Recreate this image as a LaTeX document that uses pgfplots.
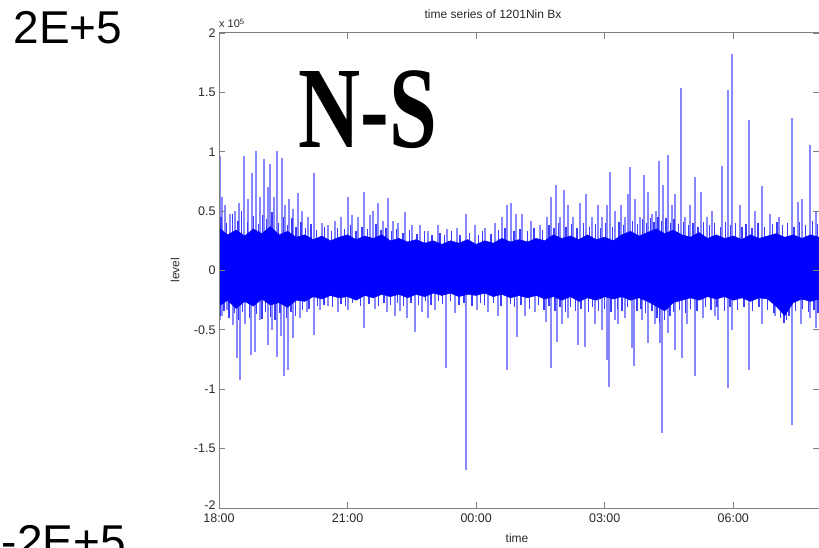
\documentclass[border=0pt]{standalone}
\usepackage{pgfplots}
\pgfplotsset{compat=1.18}
\usepackage{pgfplotstable}
\usepackage{fontspec}
\setmainfont{Liberation Sans}
\newfontfamily\serifbold{Liberation Serif}
\definecolor{axgray}{RGB}{128,128,128}
\definecolor{txt}{RGB}{40,40,40}
\definecolor{spike}{RGB}{135,135,255}
\definecolor{fuzz}{RGB}{60,60,255}

\pgfplotstableread{
x y
0.02 0.96
0.07 0.62
0.14 0.55
0.26 0.48
0.37 0.50
0.47 0.57
0.58 0.96
0.68 0.60
0.77 0.82
0.86 1.01
0.96 0.62
1.05 0.94
1.14 0.70
1.19 0.90
1.28 0.62
1.35 1.01
1.47 0.95
1.54 0.55
1.63 0.60
1.73 0.52
1.84 0.65
1.94 0.50
2.08 0.45
2.22 0.82
2.40 0.40
2.55 0.38
2.71 0.42
2.85 0.45
3.02 0.62
3.11 0.47
3.25 0.45
3.39 0.66
3.53 0.47
3.60 0.50
3.71 0.57
3.83 0.42
3.95 0.61
4.06 0.42
4.18 0.40
4.34 0.49
4.50 0.38
4.69 0.38
4.88 0.33
5.11 0.38
5.32 0.35
5.56 0.36
5.77 0.48
5.98 0.38
6.21 0.36
6.44 0.40
6.61 0.45
6.72 0.55
6.82 0.57
6.93 0.48
7.07 0.48
7.28 0.42
7.49 0.38
7.66 0.45
7.75 0.62
7.87 0.72
7.96 0.45
8.05 0.68
8.15 0.55
8.27 0.45
8.43 0.57
8.57 0.64
8.71 0.45
8.85 0.55
8.94 0.45
9.06 0.55
9.13 0.83
9.25 0.50
9.39 0.55
9.48 0.45
9.55 0.64
9.60 0.87
9.71 0.60
9.83 0.45
9.92 0.80
10.02 0.66
10.11 0.48
10.20 0.50
10.27 0.92
10.37 0.72
10.48 0.97
10.58 0.55
10.65 0.64
10.79 1.54
10.88 0.45
11.00 0.55
11.11 0.79
11.25 0.66
11.39 0.45
11.51 0.50
11.74 0.88
11.88 1.52
11.98 1.82
12.16 0.55
12.37 1.27
12.51 0.50
12.68 0.71
12.86 0.48
13.07 0.45
13.36 1.28
13.50 0.58
13.61 0.60
13.78 1.06
13.92 0.50
}\spikesup

\pgfplotstableread{
x y
0.03 -0.42
0.07 -0.38
0.19 -0.33
0.33 -0.46
0.41 -0.74
0.49 -0.92
0.61 -0.45
0.75 -0.71
0.84 -0.69
0.96 -0.42
1.15 -0.63
1.24 -0.50
1.35 -0.73
1.45 -0.55
1.52 -0.89
1.62 -0.84
1.73 -0.57
1.89 -0.40
2.05 -0.35
2.22 -0.54
2.36 -0.33
2.55 -0.30
2.78 -0.35
3.02 -0.33
3.39 -0.48
3.64 -0.32
3.92 -0.35
4.11 -0.38
4.23 -0.34
4.39 -0.40
4.58 -0.52
4.74 -0.35
4.88 -0.40
5.04 -0.33
5.30 -0.82
5.51 -0.36
5.77 -1.68
6.02 -0.33
6.28 -0.35
6.51 -0.38
6.72 -0.84
6.96 -0.56
7.14 -0.38
7.38 -0.35
7.63 -0.43
7.75 -0.82
7.89 -0.60
8.01 -0.45
8.15 -0.40
8.38 -0.63
8.55 -0.64
8.78 -0.45
8.94 -0.50
9.06 -0.75
9.11 -0.98
9.25 -0.42
9.32 -0.45
9.48 -0.40
9.64 -0.65
9.69 -0.80
9.88 -0.42
10.02 -0.61
10.18 -0.45
10.30 -0.61
10.34 -1.37
10.48 -0.53
10.65 -0.67
10.81 -0.74
10.93 -0.45
11.11 -0.89
11.30 -0.40
11.58 -0.38
11.65 -0.42
11.88 -0.99
11.98 -0.50
12.37 -0.84
12.68 -0.45
12.98 -0.38
13.36 -1.30
13.57 -0.45
13.78 -0.40
13.92 -0.48
}\spikesdown

\pgfplotstableread{
x y
0.05 0.45
0.17 0.40
0.31 0.48
0.44 0.42
0.53 0.50
0.66 0.41
0.80 0.46
0.92 0.39
1.02 0.47
1.11 0.43
1.24 0.49
1.39 0.40
1.50 0.45
1.60 0.38
1.70 0.44
1.80 0.37
1.91 0.41
2.02 0.36
2.15 0.39
2.28 0.34
2.46 0.37
2.62 0.33
2.77 0.36
2.93 0.35
3.07 0.38
3.20 0.33
3.34 0.37
3.47 0.35
3.66 0.39
3.78 0.34
3.90 0.36
4.02 0.33
4.14 0.35
4.29 0.32
4.44 0.34
4.62 0.31
4.80 0.33
4.97 0.30
5.16 0.32
5.26 0.30
5.43 0.33
5.62 0.30
5.85 0.32
6.05 0.30
6.15 0.33
6.35 0.31
6.52 0.34
6.67 0.36
6.88 0.33
7.02 0.35
7.20 0.33
7.35 0.36
7.55 0.34
7.70 0.38
7.82 0.36
7.92 0.40
8.10 0.37
8.22 0.39
8.35 0.36
8.50 0.40
8.65 0.37
8.78 0.39
8.90 0.36
9.02 0.40
9.18 0.37
9.33 0.41
9.44 0.38
9.65 0.42
9.77 0.39
9.88 0.43
9.97 0.40
10.07 0.44
10.15 0.41
10.24 0.45
10.33 0.42
10.43 0.44
10.53 0.40
10.62 0.43
10.72 0.39
10.84 0.41
10.96 0.38
11.06 0.40
11.18 0.37
11.30 0.41
11.45 0.38
11.56 0.40
11.70 0.37
11.82 0.41
11.93 0.38
12.05 0.40
12.20 0.37
12.30 0.39
12.44 0.36
12.58 0.40
12.73 0.37
12.92 0.39
13.02 0.41
13.15 0.38
13.27 0.40
13.42 0.37
13.55 0.41
13.68 0.38
13.85 0.42
13.97 0.39
}\fuzzup

\pgfplotstableread{
x y
0.04 -0.38
0.12 -0.34
0.23 -0.40
0.36 -0.36
0.45 -0.42
0.55 -0.35
0.71 -0.40
0.88 -0.37
1.00 -0.41
1.09 -0.35
1.20 -0.39
1.31 -0.42
1.42 -0.36
1.57 -0.40
1.68 -0.35
1.78 -0.38
1.95 -0.33
2.10 -0.32
2.30 -0.30
2.45 -0.29
2.65 -0.31
2.85 -0.28
2.95 -0.30
3.12 -0.27
3.30 -0.30
3.50 -0.28
3.72 -0.30
3.85 -0.27
4.00 -0.29
4.17 -0.27
4.31 -0.30
4.48 -0.27
4.65 -0.29
4.82 -0.26
4.95 -0.29
5.12 -0.26
5.22 -0.28
5.40 -0.26
5.60 -0.29
5.72 -0.27
5.90 -0.30
6.10 -0.27
6.20 -0.29
6.40 -0.27
6.58 -0.30
6.80 -0.28
6.90 -0.31
7.05 -0.29
7.24 -0.32
7.45 -0.29
7.58 -0.33
7.70 -0.30
7.84 -0.34
7.96 -0.31
8.08 -0.35
8.20 -0.31
8.32 -0.34
8.45 -0.32
8.62 -0.35
8.72 -0.31
8.86 -0.34
8.99 -0.32
9.15 -0.35
9.30 -0.32
9.40 -0.34
9.53 -0.31
9.75 -0.34
9.85 -0.32
9.95 -0.36
10.10 -0.34
10.22 -0.40
10.28 -0.44
10.40 -0.42
10.52 -0.38
10.60 -0.35
10.75 -0.33
10.88 -0.36
11.00 -0.32
11.15 -0.34
11.35 -0.31
11.48 -0.33
11.62 -0.31
11.80 -0.34
11.92 -0.31
12.10 -0.33
12.25 -0.31
12.45 -0.34
12.60 -0.31
12.80 -0.33
12.95 -0.36
13.10 -0.40
13.18 -0.44
13.24 -0.42
13.30 -0.38
13.45 -0.34
13.62 -0.32
13.75 -0.35
13.88 -0.33
13.98 -0.36
}\fuzzdown

\pgfplotstableread{
x y
0.0 0.36
0.2 0.30
0.4 0.34
0.6 0.29
0.8 0.35
1.0 0.31
1.2 0.37
1.4 0.30
1.6 0.33
1.8 0.28
2.0 0.30
2.2 0.26
2.4 0.29
2.6 0.25
2.8 0.28
3.0 0.30
3.2 0.26
3.4 0.29
3.6 0.27
3.8 0.30
4.0 0.25
4.2 0.27
4.4 0.24
4.6 0.26
4.8 0.23
5.0 0.25
5.2 0.22
5.4 0.25
5.6 0.23
5.8 0.26
6.0 0.22
6.2 0.25
6.4 0.23
6.6 0.27
6.8 0.24
7.0 0.26
7.2 0.24
7.4 0.27
7.6 0.25
7.8 0.30
8.0 0.27
8.2 0.29
8.4 0.26
8.6 0.30
8.8 0.26
9.0 0.28
9.2 0.25
9.4 0.30
9.6 0.33
9.8 0.29
10.0 0.32
10.2 0.35
10.4 0.31
10.6 0.34
10.8 0.30
11.0 0.28
11.2 0.32
11.4 0.27
11.6 0.30
11.8 0.27
12.0 0.29
12.2 0.26
12.4 0.30
12.6 0.27
12.8 0.29
13.0 0.31
13.2 0.28
13.4 0.30
13.6 0.27
13.8 0.30
14.0 0.28
14.0 -0.24
13.8 -0.26
13.6 -0.24
13.4 -0.27
13.2 -0.38
13.0 -0.30
12.8 -0.24
12.6 -0.23
12.4 -0.26
12.2 -0.23
12.0 -0.25
11.8 -0.22
11.6 -0.24
11.4 -0.22
11.2 -0.25
11.0 -0.23
10.8 -0.25
10.6 -0.27
10.4 -0.34
10.2 -0.30
10.0 -0.26
9.8 -0.23
9.6 -0.25
9.4 -0.22
9.2 -0.24
9.0 -0.22
8.8 -0.25
8.6 -0.23
8.4 -0.26
8.2 -0.22
8.0 -0.25
7.8 -0.22
7.6 -0.24
7.4 -0.21
7.2 -0.23
7.0 -0.21
6.8 -0.23
6.6 -0.20
6.4 -0.22
6.2 -0.19
6.0 -0.21
5.8 -0.20
5.6 -0.22
5.4 -0.19
5.2 -0.21
5.0 -0.19
4.8 -0.22
4.6 -0.20
4.4 -0.23
4.2 -0.20
4.0 -0.22
3.8 -0.20
3.6 -0.23
3.4 -0.21
3.2 -0.25
3.0 -0.22
2.8 -0.23
2.6 -0.21
2.4 -0.24
2.2 -0.22
2.0 -0.26
1.8 -0.25
1.6 -0.31
1.4 -0.27
1.2 -0.29
1.0 -0.24
0.8 -0.30
0.6 -0.26
0.4 -0.32
0.2 -0.25
0.0 -0.30
}\band

\begin{document}
\begin{tikzpicture}
\begin{axis}[
  at={(219pt,39pt)}, anchor=south west,
  scale only axis, width=600pt, height=475pt,
  xmin=0, xmax=14, ymin=-2, ymax=2,
  xtick={0,3,6,9,12},
  xticklabels={18:00,21:00,00:00,03:00,06:00},
  ytick={-2,-1.5,-1,-0.5,0,0.5,1,1.5,2},
  yticklabels={\raisebox{5pt}{-2},-1.5,-1,-0.5,0,0.5,1,1.5,2},
  tick label style={font=\fontsize{12.5}{13}\selectfont, text=txt},
  xticklabel style={yshift=-2pt},
  tick align=inside, major tick length=6pt,
  tick style={axgray, line width=0.8pt},
  axis line style={axgray, line width=1pt},
  axis on top,
]
\addplot[ycomb, draw=spike, line width=2pt, mark=none] table[x=x,y=y] {\spikesup};
\addplot[ycomb, draw=spike, line width=2pt, mark=none] table[x=x,y=y] {\spikesdown};
\addplot[ycomb, draw=fuzz, line width=1.5pt, mark=none] table[x=x,y=y] {\fuzzup};
\addplot[ycomb, draw=fuzz, line width=1.5pt, mark=none] table[x=x,y=y] {\fuzzdown};
\addplot[fill=blue, draw=blue, line width=0.5pt, mark=none] table[x=x,y=y] {\band} -- cycle;
\end{axis}
\begin{scope}[x=1pt,y=1pt]
\node[font=\fontsize{46}{46}\selectfont] at (68,519) {2E+5};
\node[font=\fontsize{46}{46}\selectfont, anchor=north east, inner sep=0pt] at (126,22) {-2E+5};
\node[font=\fontsize{12}{13}\selectfont, text=txt] at (493,533) {time series of 1201Nin Bx};
\node[font=\fontsize{11}{12}\selectfont, text=txt, anchor=base west, inner sep=0pt] at (219,519) {x 10\textsuperscript{5}};
\node[font=\fontsize{12}{13}\selectfont, text=txt, rotate=90] at (175,277) {level};
\node[font=\fontsize{12}{13}\selectfont, text=txt] at (517,9) {time};
\node[inner sep=0pt] at (368,437) {\scalebox{1}[1.35]{\serifbold\bfseries\fontsize{86}{86}\selectfont N-S}};
\pgfresetboundingbox
\path[use as bounding box] (0,0) rectangle (819,547);
\end{scope}
\end{tikzpicture}
\end{document}
